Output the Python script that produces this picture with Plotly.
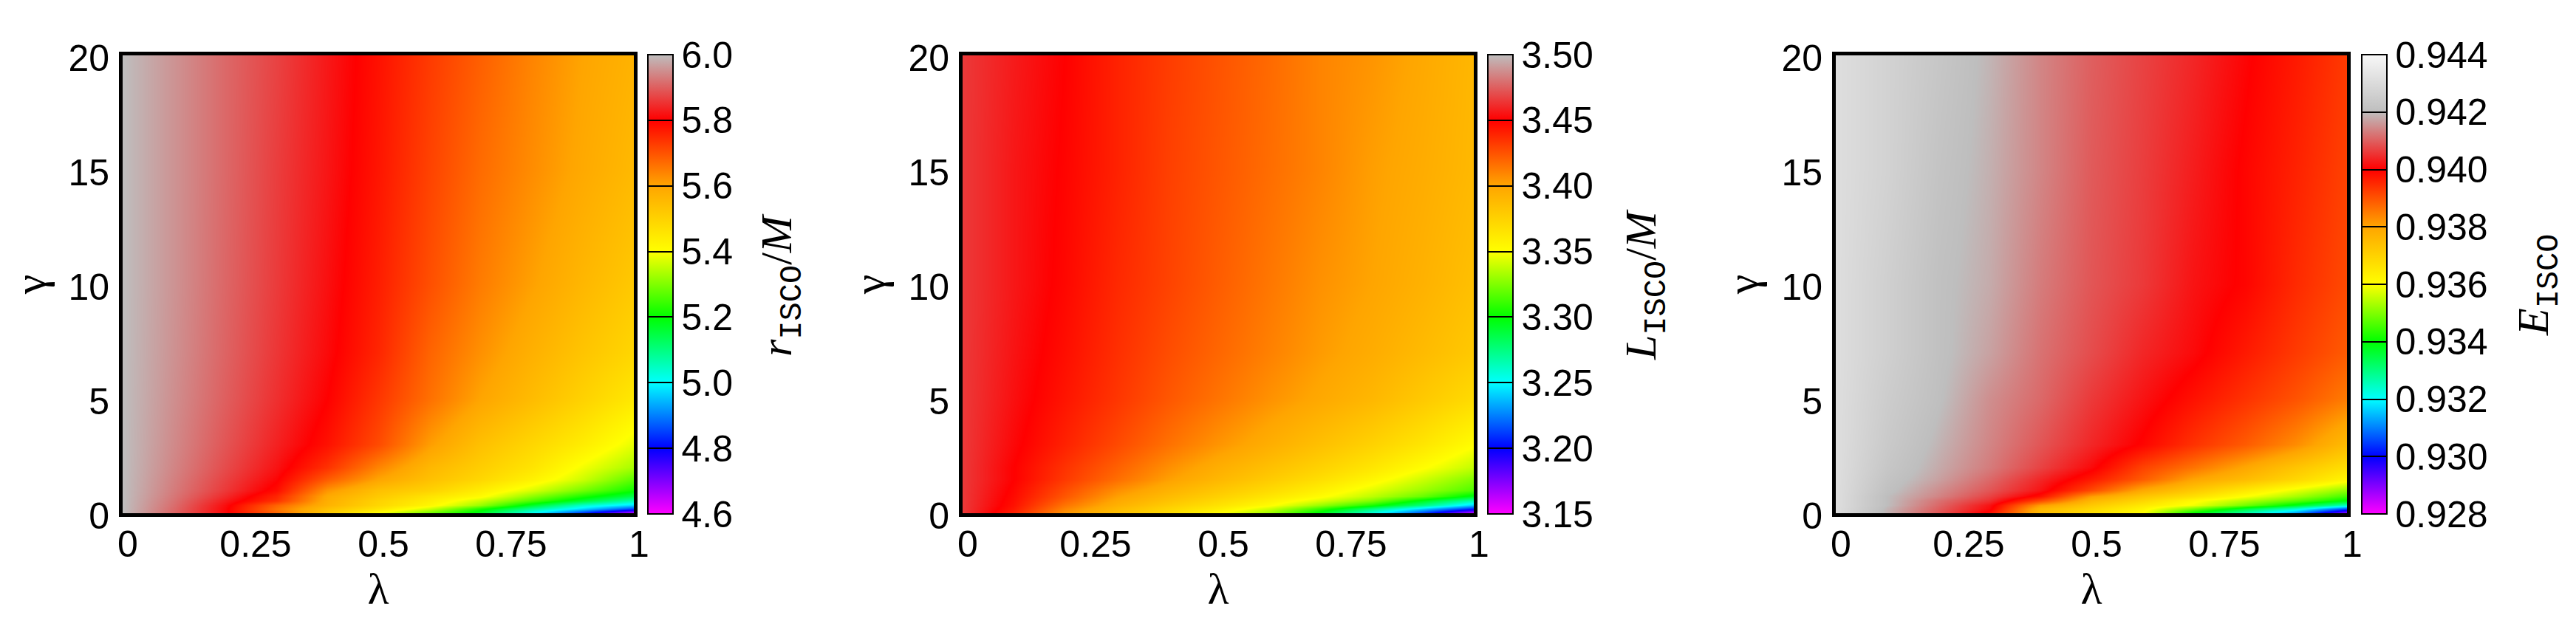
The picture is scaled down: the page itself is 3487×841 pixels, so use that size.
import plotly.graph_objects as go

# the page body keeps an 8px margin, so the figure sits inside it
PAGE_MARGIN = 8
WIDTH = 3487 - 2 * PAGE_MARGIN
HEIGHT = 841 - 2 * PAGE_MARGIN

lambda_vals = [0, 0.1, 0.2, 0.3, 0.4, 0.5, 0.6, 0.7, 0.8, 0.9, 1]
gamma_vals = [0, 0.18, 0.36, 0.55, 0.75, 1, 1.5, 2, 3, 5, 7, 10, 15, 20]
x_ticks = [0, 0.25, 0.5, 0.75, 1]
x_labels = ["0", "0.25", "0.5", "0.75", "1"]
y_ticks = [0, 5, 10, 15, 20]

# values, one row per gamma
r_isco = [
    [6.0, 5.905, 5.81, 5.68, 5.52, 5.39, 5.28, 5.17, 5.0, 4.82, 4.62],
    [6.0, 5.91, 5.81, 5.66, 5.54, 5.46, 5.36, 5.22, 5.08, 4.97, 4.85],
    [6.0, 5.915, 5.815, 5.68, 5.57, 5.49, 5.42, 5.32, 5.17, 5.04, 4.97],
    [6.0, 5.92, 5.83, 5.74, 5.58, 5.5, 5.44, 5.36, 5.26, 5.16, 5.06],
    [6.0, 5.925, 5.845, 5.755, 5.59, 5.52, 5.46, 5.41, 5.31, 5.22, 5.14],
    [6.0, 5.93, 5.86, 5.785, 5.62, 5.54, 5.5, 5.44, 5.37, 5.29, 5.21],
    [6.0, 5.935, 5.87, 5.805, 5.69, 5.6, 5.54, 5.49, 5.43, 5.36, 5.27],
    [6.0, 5.94, 5.88, 5.82, 5.74, 5.64, 5.56, 5.51, 5.46, 5.39, 5.33],
    [6.0, 5.945, 5.89, 5.835, 5.78, 5.71, 5.61, 5.54, 5.49, 5.44, 5.38],
    [6.0, 5.95, 5.9, 5.85, 5.8, 5.735, 5.665, 5.6, 5.55, 5.5, 5.45],
    [6.0, 5.953, 5.905, 5.857, 5.81, 5.755, 5.68, 5.625, 5.575, 5.53, 5.49],
    [6.0, 5.955, 5.908, 5.862, 5.816, 5.765, 5.705, 5.65, 5.605, 5.56, 5.52],
    [6.0, 5.955, 5.91, 5.865, 5.822, 5.775, 5.72, 5.67, 5.63, 5.59, 5.555],
    [6.0, 5.955, 5.91, 5.87, 5.825, 5.78, 5.73, 5.685, 5.64, 5.6, 5.57],
]
l_isco = [
    [3.465, 3.44, 3.405, 3.385, 3.37, 3.35, 3.33, 3.295, 3.255, 3.21, 3.155],
    [3.465, 3.443, 3.41, 3.389, 3.374, 3.36, 3.34, 3.31, 3.275, 3.24, 3.205],
    [3.465, 3.445, 3.415, 3.394, 3.379, 3.366, 3.352, 3.33, 3.305, 3.275, 3.24],
    [3.465, 3.446, 3.42, 3.398, 3.384, 3.371, 3.358, 3.343, 3.325, 3.295, 3.265],
    [3.465, 3.447, 3.424, 3.402, 3.388, 3.376, 3.364, 3.352, 3.337, 3.32, 3.295],
    [3.465, 3.448, 3.427, 3.407, 3.393, 3.381, 3.37, 3.358, 3.344, 3.33, 3.315],
    [3.465, 3.45, 3.433, 3.417, 3.402, 3.39, 3.379, 3.368, 3.355, 3.34, 3.325],
    [3.465, 3.45, 3.435, 3.421, 3.407, 3.395, 3.385, 3.375, 3.364, 3.351, 3.338],
    [3.465, 3.452, 3.44, 3.428, 3.416, 3.405, 3.395, 3.385, 3.375, 3.364, 3.351],
    [3.465, 3.454, 3.444, 3.434, 3.424, 3.415, 3.406, 3.398, 3.39, 3.38, 3.37],
    [3.465, 3.455, 3.446, 3.436, 3.427, 3.419, 3.411, 3.403, 3.396, 3.388, 3.38],
    [3.465, 3.456, 3.448, 3.438, 3.43, 3.422, 3.414, 3.406, 3.4, 3.393, 3.385],
    [3.465, 3.456, 3.449, 3.44, 3.431, 3.424, 3.417, 3.41, 3.402, 3.396, 3.389],
    [3.465, 3.457, 3.45, 3.44, 3.432, 3.425, 3.418, 3.41, 3.405, 3.398, 3.39],
]
e_isco = [
    [0.9431, 0.9419, 0.9409, 0.93985, 0.9375, 0.9367, 0.936, 0.9339, 0.9326, 0.9311, 0.9287],
    [0.9431, 0.9419, 0.941, 0.9401, 0.9376, 0.9369, 0.9362, 0.9349, 0.9335, 0.9323, 0.9305],
    [0.9431, 0.942, 0.9411, 0.9402, 0.9381, 0.9372, 0.9365, 0.9359, 0.9349, 0.9338, 0.9325],
    [0.9431, 0.942, 0.9412, 0.9405, 0.9391, 0.9376, 0.9369, 0.9361, 0.9354, 0.9347, 0.9339],
    [0.9431, 0.942, 0.9414, 0.9407, 0.9398, 0.9381, 0.9373, 0.9367, 0.936, 0.9353, 0.9345],
    [0.9431, 0.9421, 0.9415, 0.9409, 0.9402, 0.9391, 0.9379, 0.9372, 0.9365, 0.9358, 0.9351],
    [0.9431, 0.9422, 0.9417, 0.9411, 0.9404, 0.9397, 0.9389, 0.938, 0.9375, 0.9369, 0.9362],
    [0.9431, 0.9423, 0.9418, 0.9413, 0.9407, 0.9401, 0.9392, 0.9386, 0.93795, 0.9373, 0.9367],
    [0.9431, 0.9424, 0.9419, 0.9414, 0.9409, 0.9404, 0.93995, 0.9394, 0.9389, 0.9383, 0.9375],
    [0.9431, 0.9425, 0.94205, 0.9415, 0.9411, 0.9406, 0.9402, 0.9398, 0.9394, 0.939, 0.9385],
    [0.9431, 0.9426, 0.9421, 0.9417, 0.9412, 0.9408, 0.9404, 0.9401, 0.9397, 0.9393, 0.9389],
    [0.9431, 0.9426, 0.9421, 0.9418, 0.9413, 0.9409, 0.9406, 0.9402, 0.93995, 0.9395, 0.9391],
    [0.9431, 0.9427, 0.9422, 0.94185, 0.9414, 0.94095, 0.94065, 0.9403, 0.93995, 0.9396, 0.9392],
    [0.9431, 0.9427, 0.9423, 0.9419, 0.9414, 0.941, 0.9407, 0.9404, 0.94005, 0.9397, 0.9393],
]

r_ticks = [4.6, 4.8, 5.0, 5.2, 5.4, 5.6, 5.8, 6.0]
l_ticks = [3.15, 3.20, 3.25, 3.30, 3.35, 3.40, 3.45, 3.50]
e_ticks = [0.928, 0.930, 0.932, 0.934, 0.936, 0.938, 0.940, 0.942, 0.944]

rainbow = ["#ff00ff", "#0000ff", "#00ffff", "#00ff00", "#ffff00", "#ffa500", "#ff0000", "#bebebe"]
r_colors = rainbow
l_colors = rainbow
e_colors = rainbow + ["#f8f8f8"]

TT = "font-family:'Liberation Mono'"
r_title = f"<i>r</i><sub><span style=\"{TT}\">ISCO</span></sub>/<i>M</i>"
l_title = f"<i>L</i><sub><span style=\"{TT}\">ISCO</span></sub>/<i>M</i>"
e_title = f"<i>E</i><sub><span style=\"{TT}\">ISCO</span></sub>"

panels = [
    (r_isco, r_ticks, r_colors, ".1f", r_title, 166, 877, 1057),
    (l_isco, l_ticks, l_colors, ".2f", l_title, 1303, 2014, 2227),
    (e_isco, e_ticks, e_colors, ".3f", e_title, 2485, 3197, 3435),
]

PLOT_W = 692
TOP = 75
BOTTOM = 695
TICK_FONT = dict(family="Liberation Sans", size=50, color="black")
LABEL_FONT = dict(family="Liberation Serif", size=60, color="black")


def px(x):
    return (x - PAGE_MARGIN) / WIDTH


def py(y):
    return 1 - (y - PAGE_MARGIN) / HEIGHT


fig = go.Figure()
layout = {}
notes = []

for i, (z, ticks, colors, fmt, title, left, cb_left, title_x) in enumerate(panels):
    suffix = "" if i == 0 else str(i + 1)
    stops = [[k / (len(colors) - 1), c] for k, c in enumerate(colors)]
    fig.add_trace(
        go.Heatmap(
            x=lambda_vals,
            y=gamma_vals,
            z=z,
            zmin=ticks[0],
            zmax=ticks[-1],
            zsmooth="best",
            colorscale=stops,
            xaxis=f"x{suffix}",
            yaxis=f"y{suffix}",
            colorbar=dict(
                x=px(cb_left),
                xanchor="left",
                xpad=0,
                y=py(74),
                yanchor="top",
                ypad=0,
                len=622,
                lenmode="pixels",
                thickness=34,
                thicknessmode="pixels",
                outlinewidth=2,
                outlinecolor="black",
                tickvals=ticks,
                tickformat=fmt,
                tickprefix="\u00a0\u00a0\u00a0",
                ticks="inside",
                ticklen=34,
                tickwidth=2,
                tickcolor="black",
                tickfont=TICK_FONT,
            ),
        )
    )
    layout[f"xaxis{suffix}"] = dict(
        domain=[px(left), px(left + PLOT_W)],
        range=[0, 1],
        anchor=f"y{suffix}",
        tickvals=x_ticks,
        ticktext=x_labels,
        ticks="",
        ticklabelshift=7,
        ticklabelstandoff=-6,
        tickfont=TICK_FONT,
        showgrid=False,
        zeroline=False,
        showline=True,
        linewidth=5,
        linecolor="black",
        mirror=True,
        title=dict(text="λ", font=LABEL_FONT, standoff=6),
    )
    layout[f"yaxis{suffix}"] = dict(
        domain=[py(BOTTOM), py(TOP)],
        range=[0, 20],
        anchor=f"x{suffix}",
        tickvals=y_ticks,
        ticks="",
        ticklabelshift=3,
        ticklabelstandoff=3,
        tickfont=TICK_FONT,
        showgrid=False,
        zeroline=False,
        showline=True,
        linewidth=5,
        linecolor="black",
        mirror=True,
        title=dict(text="γ", font=LABEL_FONT, standoff=14),
    )
    notes.append(
        dict(
            text=title,
            textangle=-90,
            x=px(title_x),
            y=py(386),
            xref="paper",
            yref="paper",
            xanchor="center",
            yanchor="middle",
            showarrow=False,
            font=dict(family="Liberation Serif", size=60, color="black"),
        )
    )

fig.update_layout(
    width=WIDTH,
    height=HEIGHT,
    margin=dict(l=0, r=0, t=0, b=0, autoexpand=False),
    paper_bgcolor="white",
    plot_bgcolor="white",
    annotations=notes,
    **layout,
)
fig.write_html("out.html")
